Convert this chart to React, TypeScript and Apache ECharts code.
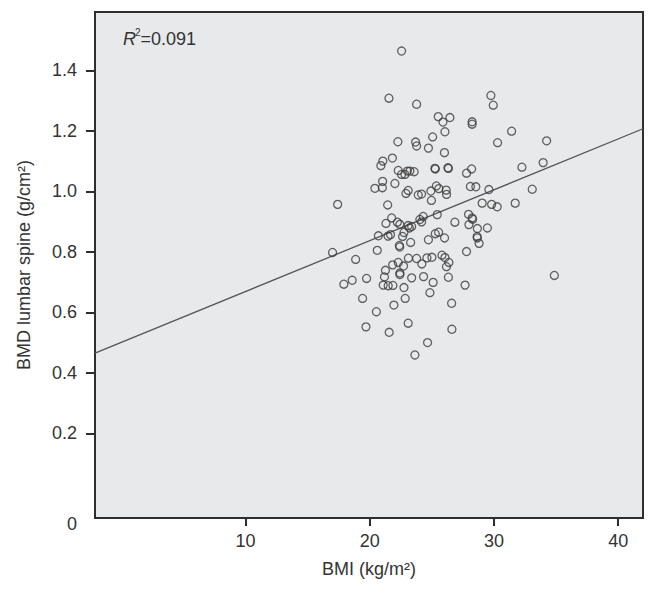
import React, { useEffect, useRef } from "react";
import * as echarts from "echarts";

// BMI (kg/m2) of each subject
const bmi = [
  22.56, 21.54, 23.77, 29.75, 29.94, 25.51, 26.45, 25.89, 28.24, 28.24,
  26.05, 31.42, 25.06, 34.24, 22.26, 23.69, 23.77, 24.72, 30.29, 26.01,
  21.82, 21.05, 20.89, 25.24, 25.28, 26.29, 26.33, 28.2, 27.79, 32.25,
  33.96, 22.29, 22.56, 22.83, 23.03, 23.23, 23.57, 22.02, 21.03, 20.41,
  21.01, 22.91, 23.09, 23.9, 24.17, 24.92, 25.36, 25.56, 26.15, 26.18,
  28.1, 28.54, 29.59, 33.08, 17.41, 21.44, 24.96, 29.05, 29.81, 30.26,
  31.71, 21.76, 21.3, 22.22, 22.42, 23.09, 23.37, 23.19, 24.03, 24.3,
  24.17, 25.43, 26.85, 27.95, 28.24, 28.28, 27.98, 28.66, 29.47, 20.69,
  21.47, 21.67, 22.64, 22.75, 24.72, 25.27, 25.54, 26.02, 28.64, 28.66,
  28.8, 22.38, 22.41, 23.29, 20.6, 17.0, 18.86, 27.79, 23.11, 23.77,
  24.19, 24.6, 25.0, 25.81, 26.05, 26.17, 26.37, 21.84, 22.29, 22.72,
  21.26, 22.42, 22.42, 17.91, 18.58, 19.74, 21.18, 21.08, 21.48, 21.86,
  23.37, 24.33, 25.1, 26.33, 27.67, 22.75, 24.84, 34.86, 19.42, 22.85,
  26.59, 20.53, 21.94, 19.69, 21.56, 23.09, 26.61, 24.65, 23.63,
];

// BMD lumbar spine (g/cm2) of each subject
const bmd = [
  1.464, 1.308, 1.288, 1.317, 1.285, 1.247, 1.244, 1.229, 1.23, 1.222,
  1.197, 1.199, 1.18, 1.167, 1.164, 1.163, 1.15, 1.143, 1.161, 1.128,
  1.11, 1.1, 1.085, 1.076, 1.074, 1.078, 1.076, 1.074, 1.06, 1.08,
  1.095, 1.069, 1.056, 1.056, 1.067, 1.067, 1.065, 1.026, 1.033, 1.01,
  1.012, 0.993, 1.003, 0.988, 0.991, 1.001, 1.018, 1.009, 1.004, 0.99,
  1.016, 1.015, 1.006, 1.007, 0.957, 0.955, 0.97, 0.961, 0.957, 0.949,
  0.961, 0.912, 0.894, 0.898, 0.891, 0.887, 0.884, 0.879, 0.907, 0.917,
  0.899, 0.923, 0.898, 0.924, 0.912, 0.908, 0.89, 0.877, 0.879, 0.853,
  0.852, 0.857, 0.851, 0.864, 0.84, 0.86, 0.865, 0.846, 0.851, 0.846,
  0.828, 0.821, 0.816, 0.831, 0.805, 0.798, 0.775, 0.801, 0.779, 0.778,
  0.76, 0.78, 0.782, 0.789, 0.781, 0.751, 0.765, 0.757, 0.765, 0.753,
  0.739, 0.73, 0.725, 0.693, 0.706, 0.712, 0.717, 0.69, 0.688, 0.689,
  0.714, 0.718, 0.699, 0.716, 0.69, 0.682, 0.665, 0.722, 0.646, 0.646,
  0.63, 0.602, 0.624, 0.552, 0.534, 0.564, 0.544, 0.5, 0.459,
];

// Linear fit line (end points across the plotted BMI range)
const fitBmi = [-2.13, 42];
const fitBmd = [0.465, 1.207];

const xTicks = [10, 20, 30, 40];
const yTicks = [0.2, 0.4, 0.6, 0.8, 1.0, 1.2, 1.4];
const yAxisBottom = -0.08; // labelled "0" (broken axis)
const rSquared = "0.091";

const FONT = "'Liberation Sans', Arial, sans-serif";
const FS = 18;

export default function App() {
  const ref = useRef<HTMLDivElement>(null);
  useEffect(() => {
    if (!ref.current) return;
    const chart = echarts.init(ref.current, undefined, { renderer: "svg" });
    const points = bmi.map((x, i) => [x, bmd[i]]);
    chart.setOption({
      animation: false,
      backgroundColor: "#ffffff",
      textStyle: { fontFamily: FONT },
      grid: {
        left: 95,
        top: 12,
        right: 16,
        bottom: 77,
        show: true,
        backgroundColor: "#e8e9eb",
        borderColor: "#2e2e2e",
        borderWidth: 2,
      },
      xAxis: {
        type: "value",
        min: -2.13,
        max: 42,
        name: "BMI (kg/m²)",
        nameLocation: "middle",
        nameGap: 42,
        nameTextStyle: { fontSize: FS, color: "#333", fontFamily: FONT },
        axisLine: { show: true, onZero: false, lineStyle: { color: "#2e2e2e", width: 2 } },
        axisTick: {
          show: true,
          length: 8,
          customValues: xTicks,
          lineStyle: { color: "#2e2e2e", width: 2 },
        },
        axisLabel: {
          customValues: xTicks,
          fontSize: FS,
          color: "#333",
          margin: 14,
          fontFamily: FONT,
        },
        splitLine: { show: false },
      },
      yAxis: {
        type: "value",
        min: yAxisBottom,
        max: 1.593,
        name: "BMD lumbar spine (g/cm²)",
        nameLocation: "middle",
        nameGap: 62,
        nameTextStyle: { fontSize: FS, color: "#333", fontFamily: FONT },
        axisLine: { show: true, onZero: false, lineStyle: { color: "#2e2e2e", width: 2 } },
        axisTick: {
          show: true,
          length: 9,
          customValues: yTicks,
          lineStyle: { color: "#2e2e2e", width: 2 },
        },
        axisLabel: {
          customValues: [yAxisBottom, ...yTicks],
          fontSize: FS,
          color: "#333",
          margin: 18,
          fontFamily: FONT,
          formatter: (v: number) => (v < 0 ? "{z|0}" : v.toFixed(1)),
          rich: {
            z: { fontSize: FS, color: "#333", fontFamily: FONT, padding: [12, 0, 0, 0] },
          },
        },
        splitLine: { show: false },
      },
      graphic: [
        {
          type: "group",
          left: 123,
          top: 27,
          children: [
            {
              type: "text",
              x: 0,
              y: 3,
              style: {
                text: "R",
                fontSize: FS,
                fontStyle: "italic",
                fontFamily: FONT,
                fill: "#333",
              },
            },
            {
              type: "text",
              x: 12,
              y: 0,
              style: { text: "2", fontSize: 10, fontFamily: FONT, fill: "#333" },
            },
            {
              type: "text",
              x: 17.5,
              y: 3,
              style: { text: "=" + rSquared, fontSize: FS, fontFamily: FONT, fill: "#333" },
            },
          ],
        },
      ],
      series: [
        {
          type: "line",
          data: fitBmi.map((x, i) => [x, fitBmd[i]]),
          showSymbol: false,
          symbol: "none",
          lineStyle: { color: "#555", width: 1.3 },
          silent: true,
          z: 1,
        },
        {
          type: "scatter",
          data: points,
          symbol: "circle",
          symbolSize: 8,
          itemStyle: {
            color: "rgba(0,0,0,0)",
            borderColor: "#3c3c3c",
            borderWidth: 1.3,
          },
          z: 2,
        },
      ],
    });
    return () => chart.dispose();
  }, []);
  return (
    <div
      ref={ref}
      style={{ position: "fixed", left: 0, top: 0, width: 659, height: 595 }}
    />
  );
}
